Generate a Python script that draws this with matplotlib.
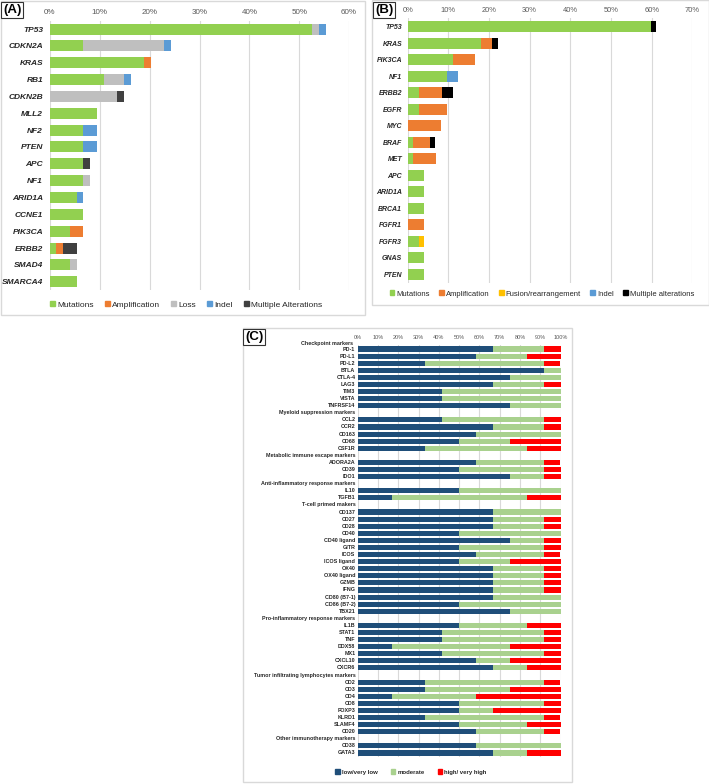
import matplotlib
matplotlib.use("Agg")
import matplotlib.pyplot as plt
from matplotlib.patches import Rectangle, Patch
import numpy as np

plt.rcParams['font.family'] = ['Liberation Sans', 'DejaVu Sans']

W, H = 709, 784

# ---------------- Panel A data ----------------
genes_a = ["TP53", "CDKN2A", "KRAS", "RB1", "CDKN2B", "MLL2", "NF2", "PTEN", "APC", "NF1",
           "ARID1A", "CCNE1", "PIK3CA", "ERBB2", "SMAD4", "SMARCA4"]
a_mut   = [52.6, 6.7, 18.9, 10.8, 0.0, 9.4, 6.7, 6.7, 6.7, 6.7, 5.4, 6.7, 4.0, 1.3, 4.0, 5.4]
a_amp   = [0.0, 0.0, 1.3, 0.0, 0.0, 0.0, 0.0, 0.0, 0.0, 0.0, 0.0, 0.0, 2.7, 1.4, 0.0, 0.0]
a_loss  = [1.4, 16.2, 0.0, 4.0, 13.5, 0.0, 0.0, 0.0, 0.0, 1.3, 0.0, 0.0, 0.0, 0.0, 1.4, 0.0]
a_indel = [1.4, 1.4, 0.0, 1.4, 0.0, 0.0, 2.7, 2.7, 0.0, 0.0, 1.3, 0.0, 0.0, 0.0, 0.0, 0.0]
a_multi = [0.0, 0.0, 0.0, 0.0, 1.3, 0.0, 0.0, 0.0, 1.3, 0.0, 0.0, 0.0, 0.0, 2.7, 0.0, 0.0]
a_labels = ["Mutations", "Amplification", "Loss", "Indel", "Multiple Alterations"]
a_colors = ["#92D050", "#ED7D31", "#BFBFBF", "#5B9BD5", "#404040"]

# ---------------- Panel B data ----------------
genes_b = ["TP53", "KRAS", "PIK3CA", "NF1", "ERBB2", "EGFR", "MYC", "BRAF", "MET", "APC",
           "ARID1A", "BRCA1", "FGFR1", "FGFR3", "GNAS", "PTEN"]
b_mut   = [59.8, 18.0, 11.1, 9.7, 2.8, 2.8, 0.0, 1.3, 1.3, 4.1, 4.1, 4.1, 0.0, 2.7, 4.1, 4.1]
b_amp   = [0.0, 2.8, 5.5, 0.0, 5.6, 6.9, 8.3, 4.2, 5.6, 0.0, 0.0, 0.0, 4.1, 0.0, 0.0, 0.0]
b_fus   = [0.0, 0.0, 0.0, 0.0, 0.0, 0.0, 0.0, 0.0, 0.0, 0.0, 0.0, 0.0, 0.0, 1.4, 0.0, 0.0]
b_indel = [0.0, 0.0, 0.0, 2.7, 0.0, 0.0, 0.0, 0.0, 0.0, 0.0, 0.0, 0.0, 0.0, 0.0, 0.0, 0.0]
b_multi = [1.3, 1.3, 0.0, 0.0, 2.7, 0.0, 0.0, 1.3, 0.0, 0.0, 0.0, 0.0, 0.0, 0.0, 0.0, 0.0]
b_labels = ["Mutations", "Amplification", "Fusion/rearrangement", "Indel", "Multiple alterations"]
b_colors = ["#92D050", "#ED7D31", "#FFC000", "#5B9BD5", "#000000"]

# ---------------- Panel C data ----------------
c_groups = [
    ("Checkpoint markers", ["PD-1", "PD-L1", "PD-L2", "BTLA", "CTLA-4", "LAG3", "TIM3", "VISTA", "TNFRSF14"]),
    ("Myeloid suppression markers", ["CCL2", "CCR2", "CD163", "CD68", "CSF1R"]),
    ("Metabolic immune escape markers", ["ADORA2A", "CD39", "IDO1"]),
    ("Anti-inflammatory response markers", ["IL10", "TGFB1"]),
    ("T-cell primed makers", ["CD137", "CD27", "CD28", "CD40", "CD40 ligand", "GITR", "ICOS", "ICOS ligand",
                              "OX40", "OX40 ligand", "GZMB", "IFNG", "CD80 (B7-1)", "CD86 (B7-2)", "TBX21"]),
    ("Pro-inflammatory response markers", ["IL1B", "STAT1", "TNF", "DDX58", "MX1", "CXCL10", "CXCR6"]),
    ("Tumor infiltrating lymphocytes markers", ["CD2", "CD3", "CD4", "CD8", "FOXP3", "KLRD1", "SLAMF4", "CD20"]),
    ("Other immunotherapy markers", ["CD38", "GATA3"]),
]
c_low = [66.7, 58.3, 33.3, 91.7, 75.0, 66.7, 41.7, 41.7, 75.0,
         41.7, 66.7, 58.3, 50.0, 33.3,
         58.3, 50.0, 75.0,
         50.0, 16.7,
         66.7, 66.7, 66.7, 50.0, 75.0, 50.0, 58.3, 50.0, 66.7, 66.7, 66.7, 66.7, 66.7, 50.0, 75.0,
         50.0, 41.7, 41.7, 16.7, 41.7, 58.3, 66.7,
         33.3, 33.3, 16.7, 50.0, 50.0, 33.3, 50.0, 58.3,
         58.3, 66.7]
c_mod = [25.0, 25.0, 58.3, 8.3, 25.0, 25.0, 58.3, 58.3, 25.0,
         50.0, 25.0, 41.7, 25.0, 50.0,
         33.3, 41.7, 16.7,
         50.0, 66.7,
         33.3, 25.0, 25.0, 50.0, 16.7, 41.7, 33.3, 25.0, 25.0, 25.0, 25.0, 25.0, 33.3, 50.0, 25.0,
         33.3, 50.0, 50.0, 58.3, 50.0, 16.7, 16.7,
         58.3, 41.7, 41.7, 41.7, 16.7, 58.3, 33.3, 33.3,
         41.7, 16.7]
c_high = [8.3, 16.7, 8.3, 0.0, 0.0, 8.3, 0.0, 0.0, 0.0,
          8.3, 8.3, 0.0, 25.0, 16.7,
          8.3, 8.3, 8.3,
          0.0, 16.7,
          0.0, 8.3, 8.3, 0.0, 8.3, 8.3, 8.3, 25.0, 8.3, 8.3, 8.3, 8.3, 0.0, 0.0, 0.0,
          16.7, 8.3, 8.3, 25.0, 8.3, 25.0, 16.7,
          8.3, 25.0, 41.7, 8.3, 33.3, 8.3, 16.7, 8.3,
          0.0, 16.7]
c_labels = ["low/very low", "moderate", "high/ very high"]
c_colors = ["#1F4E79", "#A9D18E", "#FF0000"]

GRID = "#D9D9D9"
TICKC = "#595959"
TXT = "#262626"


def ax_rect(x0, x1, y0, y1):
    return [x0 / W, 1 - y1 / H, (x1 - x0) / W, (y1 - y0) / H]


def fig_box(fig, x0, y0, x1, y1, color, lw):
    fig.patches.append(Rectangle((x0 / W, 1 - y1 / H), (x1 - x0) / W, (y1 - y0) / H,
                                 transform=fig.transFigure, fill=False, edgecolor=color, lw=lw))


def panel_label(fig, x, y, s):
    fig.text(x / W, 1 - y / H, s, fontsize=9.5, fontweight='bold', ha='left', va='center',
             bbox=dict(boxstyle='square,pad=0.12', fc='white', ec='#333333', lw=0.8))


def stacked(ax, cats, series, colors, height):
    y = np.arange(len(cats))
    left = np.zeros(len(cats))
    for vals, col in zip(series, colors):
        v = np.array(vals, dtype=float)
        ax.barh(y, v, left=left, color=col, height=height, edgecolor='none', zorder=3)
        left += v


def style_top_axis(ax, xmax, step, fs, pad):
    ax.set_xlim(0, xmax)
    ax.xaxis.tick_top()
    ticks = np.arange(0, xmax + 0.01, step)
    ax.set_xticks(ticks)
    ax.set_xticklabels([f"{int(t)}%" for t in ticks], fontsize=fs, color=TICKC)
    ax.tick_params(axis='x', length=0, pad=pad)
    ax.grid(axis='x', color=GRID, lw=0.8, zorder=0)
    for s in ax.spines.values():
        s.set_visible(False)


fig = plt.figure(figsize=(W / 100, H / 100), dpi=100)

# ---------------- Panel A ----------------
fig_box(fig, 0.5, 0.5, 365, 315, GRID, 1.0)
axA = fig.add_axes(ax_rect(50, 349, 20.6, 290.2))
stacked(axA, genes_a, [a_mut, a_amp, a_loss, a_indel, a_multi], a_colors, 0.65)
style_top_axis(axA, 60, 10, 5.8, 3)
axA.set_ylim(len(genes_a) - 0.5, -0.5)
axA.set_yticks(np.arange(len(genes_a)))
axA.set_yticklabels(genes_a, fontsize=6, fontweight='bold', fontstyle='italic', color=TXT)
axA.tick_params(axis='y', length=0, pad=5)
fig.legend([Patch(color=c) for c in a_colors], a_labels, loc='center',
           bbox_to_anchor=(186 / W, 1 - 305 / H), ncol=5, frameon=False, fontsize=6,
           handlelength=0.6, handleheight=0.6, handletextpad=0.3, columnspacing=1.3,
           labelcolor=TXT)
panel_label(fig, 3, 10, "(A)")

# ---------------- Panel B ----------------
fig_box(fig, 372, 0.5, 708.5, 305, GRID, 1.0)
axB = fig.add_axes(ax_rect(407.7, 692.3, 18.4, 282.6))
stacked(axB, genes_b, [b_mut, b_amp, b_fus, b_indel, b_multi], b_colors, 0.65)
style_top_axis(axB, 70, 10, 5.4, 3)
axB.set_ylim(len(genes_b) - 0.5, -0.5)
axB.set_yticks(np.arange(len(genes_b)))
axB.set_yticklabels(genes_b, fontsize=5, fontweight='bold', fontstyle='italic', color=TXT)
axB.tick_params(axis='y', length=0, pad=4)
fig.legend([Patch(color=c) for c in b_colors], b_labels, loc='center',
           bbox_to_anchor=(542 / W, 1 - 294 / H), ncol=5, frameon=False, fontsize=5.5,
           handlelength=0.6, handleheight=0.6, handletextpad=0.3, columnspacing=1.2,
           labelcolor=TXT)
panel_label(fig, 375, 10, "(B)")

# ---------------- Panel C ----------------
fig_box(fig, 243, 328, 572, 782, GRID, 1.0)
rows = []  # (label, is_header, value index or None)
k = 0
for hdr, items in c_groups:
    rows.append((hdr, True, None))
    for it in items:
        rows.append((it, False, k))
        k += 1
n_rows = len(rows)
axC = fig.add_axes(ax_rect(357.7, 560.7, 345.5, 756.5))
ypos = np.array([i for i, r in enumerate(rows) if not r[1]], dtype=float)
left = np.zeros(len(ypos))
for vals, col in zip([c_low, c_mod, c_high], c_colors):
    v = np.array(vals, dtype=float)
    axC.barh(ypos, v, left=left, color=col, height=0.72, edgecolor='none', zorder=3)
    left += v
style_top_axis(axC, 100, 10, 4.0, 3.8)
axC.set_ylim(n_rows - 0.5, 0.5)
axC.set_yticks([])
tr = matplotlib.transforms.blended_transform_factory(axC.transAxes, axC.transData)
for i, (lab, is_hdr, _) in enumerate(rows):
    yy = i + 0.15 if i == 0 else i
    xx = -0.022 if i == 0 else -0.012
    axC.text(xx, yy, lab, transform=tr, ha='right', va='center', fontsize=3.9,
             fontweight='bold', color=TXT, clip_on=False)
fig.legend([Patch(color=c) for c in c_colors], c_labels, loc='center',
           bbox_to_anchor=(411 / W, 1 - 772 / H), ncol=3, frameon=False,
           handlelength=0.7, handleheight=0.7, handletextpad=0.4, columnspacing=2.2,
           labelcolor=TXT, prop={'weight': 'bold', 'size': 4.3})
panel_label(fig, 245, 337, "(C)")

fig.savefig("out.png", dpi=100)
